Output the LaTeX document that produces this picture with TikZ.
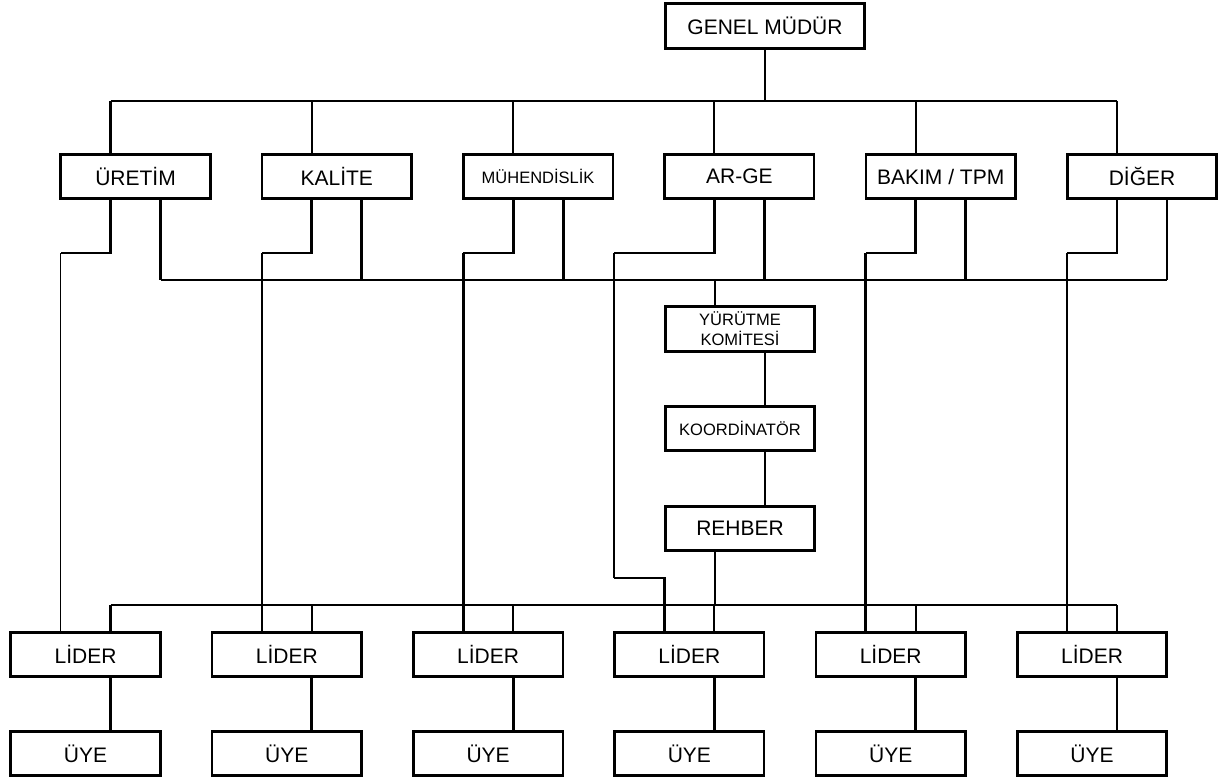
\documentclass[tikz,border=0pt]{standalone}
\usepackage{fontspec}
\setmainfont{Liberation Sans}
\usetikzlibrary{calc}
\begin{document}
\begin{tikzpicture}[x=1pt,y=-1pt,
  box/.style={draw, line width=2.6pt, minimum width=149.5pt, minimum height=44.5pt, inner sep=0pt, font=\fontsize{21}{24}\selectfont},
  smallbox/.style={box, font=\fontsize{16.5}{20}\selectfont},
  thk/.style={line width=2.8pt},
  med/.style={line width=2.1pt},
  thn/.style={line width=1.6pt}]
\useasboundingbox (0,0) rectangle (1220,782);
% bus levels
\coordinate (b1) at (0,101);
\coordinate (j)  at (0,253);
\coordinate (b2) at (0,280);
\coordinate (aj) at (614,578);
\coordinate (b3) at (0,605);
% nodes
\node[box, minimum width=199.5pt, minimum height=45.5pt] (gm) at (765,26) {GENEL MÜDÜR};
\node[box] (d1) at (135.5,176.5) {ÜRETİM};
\node[box] (d2) at (336.8,176.5) {KALİTE};
\node[smallbox] (d3) at (538.1,176.5) {MÜHENDİSLİK};
\node[box] (d4) at (739.4,176.5) {AR-GE};
\node[box] (d5) at (940.7,176.5) {BAKIM / TPM};
\node[box] (d6) at (1142,176.5) {DİĞER};
\node[smallbox, align=center] (yk) at (740,329) {YÜRÜTME\\KOMİTESİ};
\node[smallbox] (ko) at (740,428.5) {KOORDİNATÖR};
\node[box] (re) at (740,528.5) {REHBER};
\node[box] (L1) at (85.5,654.5) {LİDER};
\node[box] (L2) at (286.8,654.5) {LİDER};
\node[box] (L3) at (488.1,654.5) {LİDER};
\node[box] (L4) at (689.4,654.5) {LİDER};
\node[box] (L5) at (890.7,654.5) {LİDER};
\node[box] (L6) at (1092,654.5) {LİDER};
\node[box] (U1) at (85.5,753.5) {ÜYE};
\node[box] (U2) at (286.8,753.5) {ÜYE};
\node[box] (U3) at (488.1,753.5) {ÜYE};
\node[box] (U4) at (689.4,753.5) {ÜYE};
\node[box] (U5) at (890.7,753.5) {ÜYE};
\node[box] (U6) at (1092,753.5) {ÜYE};
% top level
\draw[med] (gm.south) -- (gm.south |- b1);
\draw[thk] ([xshift=-25pt]d1.north |- b1) -- ([xshift=-25pt]d6.north |- b1);
\foreach \d in {d1,d2,d3,d4,d5,d6}{
  \draw[med] ([xshift=-25pt]\d.north |- b1) -- ([xshift=-25pt]\d.north);
  \draw[thk] ([xshift=25pt]\d.south) -- ([xshift=25pt]\d.south |- b2);
}
% second bus
\draw[thk] ([xshift=25pt]d1.south |- b2) -- ([xshift=25pt]d6.south |- b2);
% left lines from departments to leaders
\draw[thk] ([xshift=-25pt]d1.south) -- ([xshift=-25pt]d1.south |- j) -- ([xshift=-25pt]L1.north |- j);
\draw[thn] ([xshift=-25pt]L1.north |- j) -- ([xshift=-25pt]L1.north);
\draw[thk] ([xshift=-25pt]d2.south) -- ([xshift=-25pt]d2.south |- j) -- ([xshift=-25pt]L2.north |- j);
\draw[thn] ([xshift=-25pt]L2.north |- j) -- ([xshift=-25pt]L2.north);
\draw[thk] ([xshift=-25pt]d3.south) -- ([xshift=-25pt]d3.south |- j) -- ([xshift=-25pt]L3.north |- j);
\draw[thk] ([xshift=-25pt]L3.north |- j) -- ([xshift=-25pt]L3.north);
\draw[thk] ([xshift=-25pt]d4.south) -- ([xshift=-25pt]d4.south |- j) -- (aj |- j);
\draw[thn] (aj |- j) -- (aj);
\draw[thk] (aj) -- ([xshift=-25pt]L4.north |- aj) -- ([xshift=-25pt]L4.north);
\draw[thk] ([xshift=-25pt]d5.south) -- ([xshift=-25pt]d5.south |- j) -- ([xshift=-25pt]L5.north |- j);
\draw[thk] ([xshift=-25pt]L5.north |- j) -- ([xshift=-25pt]L5.north);
\draw[thk] ([xshift=-25pt]d6.south) -- ([xshift=-25pt]d6.south |- j) -- ([xshift=-25pt]L6.north |- j);
\draw[thn] ([xshift=-25pt]L6.north |- j) -- ([xshift=-25pt]L6.north);
% middle column
\draw[med] ([xshift=-25pt]yk.north |- b2) -- ([xshift=-25pt]yk.north);
\draw[med] ([xshift=25pt]yk.south) -- ([xshift=25pt]ko.north);
\draw[med] ([xshift=25pt]ko.south) -- ([xshift=25pt]re.north);
\draw[med] ([xshift=-25pt]re.south) -- ([xshift=-25pt]re.south |- b3);
% bottom bus
\draw[med] ([xshift=25pt]L1.north |- b3) -- ([xshift=25pt]L6.north |- b3);
\foreach \i in {1,...,6}{
  \draw[med] ([xshift=25pt]L\i.north |- b3) -- ([xshift=25pt]L\i.north);
  \draw[thk] ([xshift=25pt]L\i.south) -- ([xshift=25pt]U\i.north);
}
\end{tikzpicture}
\end{document}
